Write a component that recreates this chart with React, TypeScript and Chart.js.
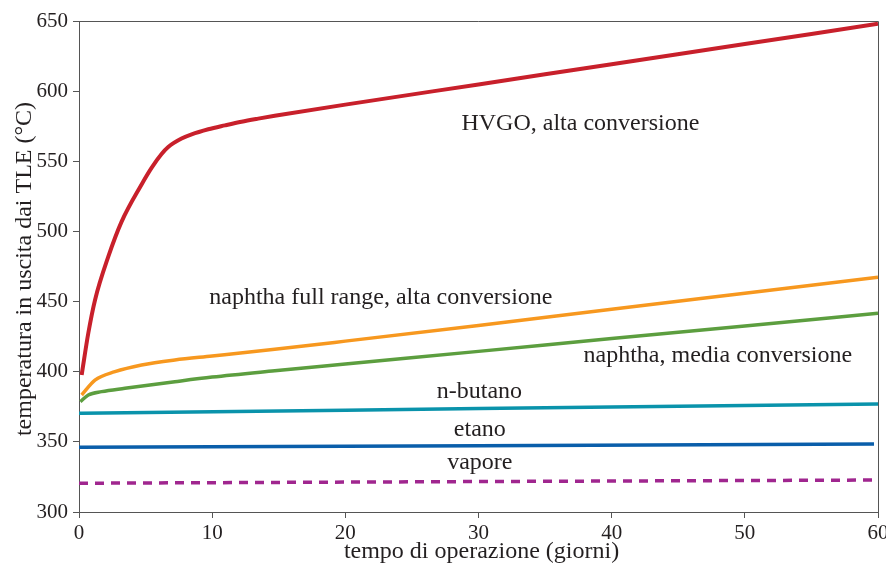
import React, { useEffect, useRef } from "react";
import { Chart, registerables } from "chart.js";

Chart.register(...registerables);

// ---- data ----
const hvgoX = [0.2, 0.7, 1.2, 2.2, 3.2, 4.7, 5.46, 6.2, 6.7, 7.7, 8.46, 9.71, 10.96, 12.2, 13.46, 14.7, 20, 30, 40, 50, 60];
const hvgoY = [397.7, 427.6, 451, 482, 507, 533.5, 545.5, 555.2, 560.2, 566.2, 569.2, 572.8, 575.6, 578.2, 580.4, 582.4, 590.4, 604.8, 619.2, 633.6, 648];

const naphthaFullX = [0.2, 1.2, 2.7, 4.7, 7.2, 10, 14.7, 20, 30, 40, 50, 60];
const naphthaFullY = [383.4, 394, 400, 404.8, 408.4, 411.2, 416, 421.8, 433, 444.5, 455.9, 467.3];

const naphthaMediaX = [0.1, 0.7, 1.7, 3.45, 7.2, 10, 14.7, 20, 30, 40, 50, 60];
const naphthaMediaY = [378.7, 383.4, 385.8, 388.2, 392.9, 396.2, 400.7, 405.5, 414.5, 423.6, 432.6, 441.7];

const butanoX = [0, 20, 40, 60];
const butanoY = [370.4, 372.6, 374.8, 377];

const etanoX = [0, 30, 59.7];
const etanoY = [346.1, 347.3, 348.5];

const vaporeX = [0, 30, 60];
const vaporeY = [320.5, 321.7, 322.8];

const xTicks = [0, 10, 20, 30, 40, 50, 60];
const yTicks = [300, 350, 400, 450, 500, 550, 600, 650];

const xTitle = "tempo di operazione (giorni)";
const yTitle = "temperatura in uscita dai TLE (°C)";

const labelTexts = [
  "HVGO, alta conversione",
  "naphtha full range, alta conversione",
  "naphtha, media conversione",
  "n-butano",
  "etano",
  "vapore",
];
const labelX = [37.65, 22.67, 47.97, 30.07, 30.1, 30.1];
const labelY = [576.6, 452.6, 411.2, 385.6, 358.5, 335];

const FONT = "'Liberation Serif', 'Times New Roman', serif";
const TEXT = "#231F20";
const AXIS = "#555555";

const pts = (xs: number[], ys: number[]) => xs.map((x, i) => ({ x, y: ys[i] }));

export default function App() {
  const ref = useRef<HTMLCanvasElement | null>(null);

  useEffect(() => {
    document.body.style.margin = "0";
    const canvas = ref.current!;
    const boxPlugin = {
      id: "boxAndLabels",
      afterDatasetsDraw(chart: any) {
        const { ctx, scales } = chart;
        ctx.save();
        ctx.fillStyle = TEXT;
        ctx.font = `24px ${FONT}`;
        ctx.textAlign = "center";
        ctx.textBaseline = "middle";
        labelTexts.forEach((t, i) => {
          ctx.fillText(t, scales.x.getPixelForValue(labelX[i]), scales.y.getPixelForValue(labelY[i]));
        });
        ctx.restore();
      },
      afterDraw(chart: any) {
        const { ctx, chartArea } = chart;
        ctx.save();
        ctx.strokeStyle = AXIS;
        ctx.lineWidth = 1;
        ctx.beginPath();
        ctx.moveTo(chartArea.left, chartArea.top + 0.5);
        ctx.lineTo(chartArea.right + 0.5, chartArea.top + 0.5);
        ctx.lineTo(chartArea.right + 0.5, chartArea.bottom);
        ctx.stroke();
        // axis titles
        ctx.fillStyle = TEXT;
        ctx.font = `24px ${FONT}`;
        ctx.textAlign = "center";
        ctx.textBaseline = "middle";
        ctx.fillText(xTitle, (chartArea.left + chartArea.right) / 2 + 3, 552);
        ctx.translate(25, 269);
        ctx.rotate(-Math.PI / 2);
        ctx.fillText(yTitle, 0, 0);
        ctx.restore();
      },
    };

    const chart = new Chart(canvas, {
      type: "line",
      data: {
        datasets: [
          { label: "HVGO", data: pts(hvgoX, hvgoY), borderColor: "#C8202B", borderWidth: 4 },
          { label: "naphtha full", data: pts(naphthaFullX, naphthaFullY), borderColor: "#F7981F", borderWidth: 3.5 },
          { label: "naphtha media", data: pts(naphthaMediaX, naphthaMediaY), borderColor: "#5C9E3F", borderWidth: 3.5 },
          { label: "n-butano", data: pts(butanoX, butanoY), borderColor: "#0A93AB", borderWidth: 3.5 },
          { label: "etano", data: pts(etanoX, etanoY), borderColor: "#0A5EAA", borderWidth: 3.5 },
          { label: "vapore", data: pts(vaporeX, vaporeY), borderColor: "#A0268F", borderWidth: 3.5, borderDash: [9, 7] },
        ].map((d) => ({ ...d, pointRadius: 0, fill: false, cubicInterpolationMode: "monotone" as const, tension: 0.4 })),
      },
      options: {
        animation: false,
        responsive: false,
        layout: { padding: { top: 21, right: 8, left: 0, bottom: 0 } },
        plugins: { legend: { display: false }, tooltip: { enabled: false } },
        scales: {
          x: {
            type: "linear",
            min: 0,
            max: 60,
            afterBuildTicks: (s: any) => { s.ticks = xTicks.map((v) => ({ value: v })); },
            afterFit: (s: any) => { s.height = 54; s.paddingLeft = 0; s.paddingRight = 0; },
            grid: { drawOnChartArea: false, drawTicks: true, tickLength: 6, color: AXIS },
            border: { display: true, color: AXIS, width: 1 },
            ticks: { font: { family: FONT, size: 21 }, color: TEXT, padding: 3, maxRotation: 0 },
          },
          y: {
            type: "linear",
            min: 300,
            max: 650,
            afterBuildTicks: (s: any) => { s.ticks = yTicks.map((v) => ({ value: v })); },
            afterFit: (s: any) => { s.width = 79; s.paddingTop = 0; s.paddingBottom = 0; },
            grid: { drawOnChartArea: false, drawTicks: true, tickLength: 6, color: AXIS },
            border: { display: true, color: AXIS, width: 1 },
            ticks: { font: { family: FONT, size: 21 }, color: TEXT, padding: 5 },
          },
        },
      },
      plugins: [boxPlugin],
    });
    return () => chart.destroy();
  }, []);

  return (
    <div style={{ width: 886, height: 566 }}>
      <canvas ref={ref} width={886} height={566} style={{ display: "block" }} />
    </div>
  );
}
